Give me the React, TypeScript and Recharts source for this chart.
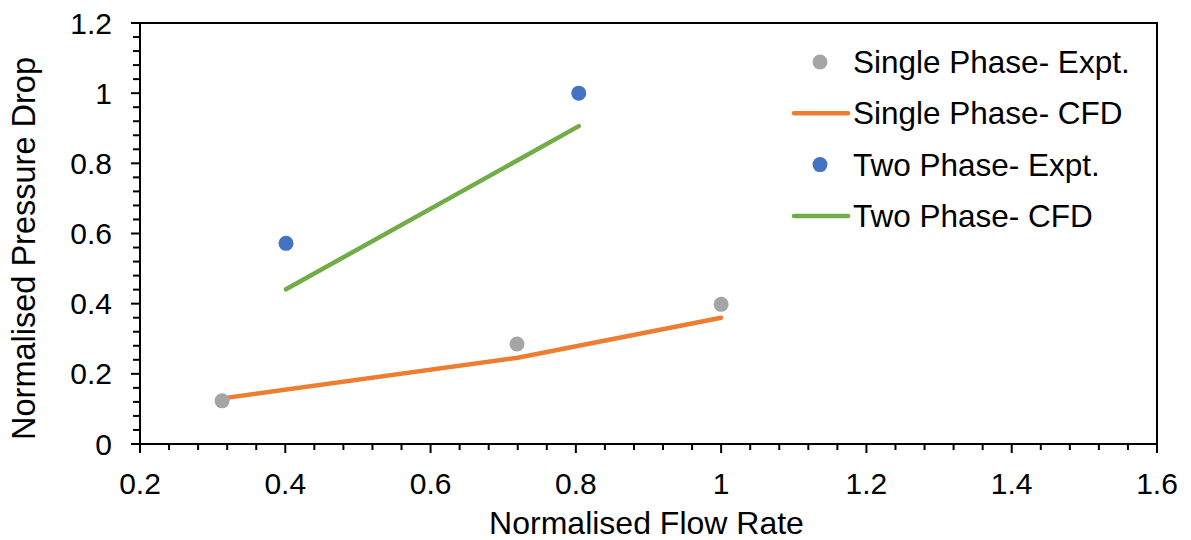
import React from 'react';
import { ScatterChart, Scatter, XAxis, YAxis, ReferenceArea } from 'recharts';

const singleExpt = [
  { x: 0.313, y: 0.123 },
  { x: 0.719, y: 0.285 },
  { x: 1.0, y: 0.398 },
];
const singleCfd = [
  { x: 0.313, y: 0.13 },
  { x: 0.72, y: 0.246 },
  { x: 1.0, y: 0.36 },
];
const twoExpt = [
  { x: 0.401, y: 0.572 },
  { x: 0.804, y: 1.0 },
];
const twoCfd = [
  { x: 0.401, y: 0.441 },
  { x: 0.804, y: 0.906 },
];

const xMajorTicks = [0.2, 0.4, 0.6, 0.8, 1, 1.2, 1.4, 1.6];
const xAllTicks = [
  0.2, 0.24, 0.28, 0.32, 0.36, 0.4, 0.44, 0.48, 0.52, 0.56, 0.6, 0.64, 0.68, 0.72, 0.76, 0.8,
  0.84, 0.88, 0.92, 0.96, 1, 1.04, 1.08, 1.12, 1.16, 1.2, 1.24, 1.28, 1.32, 1.36, 1.4, 1.44,
  1.48, 1.52, 1.56, 1.6,
];
const yMajorTicks = [0, 0.2, 0.4, 0.6, 0.8, 1, 1.2];
const yAllTicks = [
  0, 0.04, 0.08, 0.12, 0.16, 0.2, 0.24, 0.28, 0.32, 0.36, 0.4, 0.44, 0.48, 0.52, 0.56, 0.6,
  0.64, 0.68, 0.72, 0.76, 0.8, 0.84, 0.88, 0.92, 0.96, 1, 1.04, 1.08, 1.12, 1.16, 1.2,
];

const legendItems = [
  { name: 'Single Phase- Expt.', color: '#A5A5A5', kind: 'dot' },
  { name: 'Single Phase- CFD', color: '#ED7D31', kind: 'line' },
  { name: 'Two Phase- Expt.', color: '#4472C4', kind: 'dot' },
  { name: 'Two Phase- CFD', color: '#70AD47', kind: 'line' },
];

const FONT = '"Liberation Sans", Arial, sans-serif';

const isMajor = (v: number, majors: number[]) => majors.some((m) => Math.abs(m - v) < 1e-6);
const fmt = (v: number) => String(Number(v.toFixed(2)));

const XTick = (props: any) => {
  const { x, y, payload } = props;
  const major = isMajor(payload.value, xMajorTicks);
  return (
    <g>
      <line x1={x} x2={x} y1={y} y2={y + (major ? 9 : 6)} stroke="#000" strokeWidth={2} />
      {major && (
        <text x={x} y={y + 50} textAnchor="middle" fontSize={30} fontFamily={FONT} fill="#000">
          {fmt(payload.value)}
        </text>
      )}
    </g>
  );
};

const YTick = (props: any) => {
  const { x, y, payload } = props;
  const major = isMajor(payload.value, yMajorTicks);
  return (
    <g>
      <line x1={x} x2={x - (major ? 9 : 7)} y1={y} y2={y} stroke="#000" strokeWidth={2} />
      {major && (
        <text x={x - 28} y={y + 10.5} textAnchor="end" fontSize={30} fontFamily={FONT} fill="#000">
          {fmt(payload.value)}
        </text>
      )}
    </g>
  );
};

const Dot = (props: any) => {
  const { cx, cy, fill } = props;
  return <circle cx={cx} cy={cy} r={7.5} fill={fill} />;
};

const NoDot = () => <g />;

const ChartLegend = () => (
  <svg
    width={400}
    height={240}
    style={{ position: 'absolute', left: 780, top: 30, overflow: 'visible' }}
  >
    {legendItems.map((item, i) => {
      const cy = 32 + i * 51.3;
      return (
        <g key={item.name}>
          {item.kind === 'dot' ? (
            <circle cx={40} cy={cy} r={7.5} fill={item.color} />
          ) : (
            <line x1={14} x2={68} y1={cy} y2={cy} stroke={item.color} strokeWidth={4.5} strokeLinecap="round" />
          )}
          <text x={73} y={cy + 11} fontSize={31.5} fontFamily={FONT} fill="#000">
            {item.name}
          </text>
        </g>
      );
    })}
  </svg>
);

const App = () => {
  return (
    <div style={{ position: 'absolute', left: 0, top: 0, width: 1191, height: 540, background: '#fff' }}>
      <ScatterChart width={1191} height={540} margin={{ top: 23, right: 34, left: 0, bottom: 0 }}>
        <XAxis
          type="number"
          dataKey="x"
          domain={[0.2, 1.6]}
          ticks={xAllTicks}
          interval={0}
          allowDataOverflow
          height={96}
          tickSize={0}
          tickMargin={0}
          tickLine={false}
          axisLine={{ stroke: '#000', strokeWidth: 2 }}
          tick={<XTick />}
          label={{
            content: (p: any) => (
              <text
                x={p.viewBox.x + p.viewBox.width / 2 - 2}
                y={p.viewBox.y + 90}
                textAnchor="middle"
                fontSize={32}
                fontFamily={FONT}
                fill="#000"
              >
                Normalised Flow Rate
              </text>
            ),
          }}
        />
        <YAxis
          type="number"
          dataKey="y"
          domain={[0, 1.2]}
          ticks={yAllTicks}
          interval={0}
          allowDataOverflow
          width={140}
          tickSize={0}
          tickMargin={0}
          tickLine={false}
          axisLine={{ stroke: '#000', strokeWidth: 2 }}
          tick={<YTick />}
          label={{
            content: (p: any) => (
              <text
                x={35}
                y={p.viewBox.y + p.viewBox.height / 2 + 15}
                transform={`rotate(-90, 35, ${p.viewBox.y + p.viewBox.height / 2 + 15})`}
                textAnchor="middle"
                fontSize={32.5}
                fontFamily={FONT}
                fill="#000"
              >
                Normalised Pressure Drop
              </text>
            ),
          }}
        />
        <ReferenceArea x1={0.2} x2={1.6} y1={0} y2={1.2} fill="none" fillOpacity={0} stroke="#000" strokeWidth={2} />
        <Scatter
          name="Single Phase- CFD"
          data={singleCfd}
          fill="#ED7D31"
          line={{ stroke: '#ED7D31', strokeWidth: 4.5, strokeLinecap: 'round' }}
          lineType="joint"
          shape={<NoDot />}
          isAnimationActive={false}
        />
        <Scatter
          name="Two Phase- CFD"
          data={twoCfd}
          fill="#70AD47"
          line={{ stroke: '#70AD47', strokeWidth: 4.5, strokeLinecap: 'round' }}
          lineType="joint"
          shape={<NoDot />}
          isAnimationActive={false}
        />
        <Scatter name="Single Phase- Expt." data={singleExpt} fill="#A5A5A5" shape={<Dot />} isAnimationActive={false} />
        <Scatter name="Two Phase- Expt." data={twoExpt} fill="#4472C4" shape={<Dot />} isAnimationActive={false} />
      </ScatterChart>
      <ChartLegend />
    </div>
  );
};

export default App;
